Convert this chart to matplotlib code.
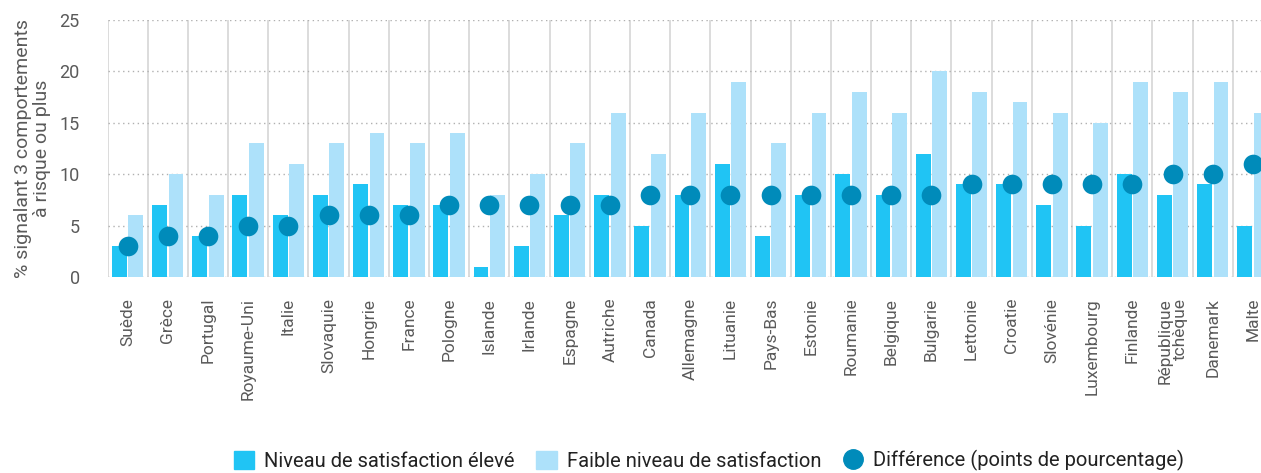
import matplotlib
import matplotlib.pyplot as plt
import numpy as np
from matplotlib.lines import Line2D
from matplotlib.patches import Patch

matplotlib.use('Agg')

plt.rcParams['font.family'] = ['Roboto', 'DejaVu Sans']

countries = ['Suède', 'Grèce', 'Portugal', 'Royaume-Uni', 'Italie', 'Slovaquie', 'Hongrie',
             'France', 'Pologne', 'Islande', 'Irlande', 'Espagne', 'Autriche', 'Canada',
             'Allemagne', 'Lituanie', 'Pays-Bas', 'Estonie', 'Roumanie', 'Belgique',
             'Bulgarie', 'Lettonie', 'Croatie', 'Slovénie', 'Luxembourg', 'Finlande',
             'République\ntchèque', 'Danemark', 'Malte']
high_satisfaction = [3, 7, 4, 8, 6, 8, 9, 7, 7, 1, 3, 6, 8, 5, 8, 11, 4, 8, 10, 8, 12, 9, 9, 7, 5,
                     10, 8, 9, 5]
low_satisfaction = [6, 10, 8, 13, 11, 13, 14, 13, 14, 8, 10, 13, 16, 12, 16, 19, 13, 16, 18, 16, 20,
                    18, 17, 16, 15, 19, 18, 19, 16]
difference = [3, 4, 4, 5, 5, 6, 6, 6, 7, 7, 7, 7, 7, 8, 8, 8, 8, 8, 8, 8, 8, 9, 9, 9, 9, 9, 10, 10, 11]

c_high = '#20C4F4'
c_low = '#ADE1FA'
c_diff = '#008BBA'
c_text = '#5a5a5a'

fig = plt.figure(figsize=(12.61, 4.73), dpi=100)
ax = fig.add_axes([107.5 / 1261, 196 / 473, 1165.5 / 1261, 257 / 473])

x = np.arange(len(countries))

# separators and dotted grid
for b in np.arange(-0.5, len(countries) + 0.5, 1):
    ax.axvline(b, color='#d6d6d6', lw=1.2, zorder=0)
for v in range(0, 26, 5):
    ax.axhline(v, color='#b0b0b0', lw=1, ls=(0, (1, 2.5)), zorder=0.5)

ax.bar(x - 0.205, high_satisfaction, width=0.37, color=c_high, zorder=2)
ax.bar(x + 0.205, low_satisfaction, width=0.37, color=c_low, zorder=2)
ax.scatter(x, difference, s=200, color=c_diff, zorder=3, linewidths=0)

ax.set_xlim(-0.5, len(countries) - 0.5)
ax.set_ylim(0, 25)
ax.set_yticks(range(0, 26, 5))
ax.set_xticks(x)
ax.set_xticklabels(countries, rotation=90, fontsize=12.5, color=c_text, linespacing=1.0,
                   multialignment='right')
ax.tick_params(axis='y', labelsize=13, labelcolor=c_text, length=0, pad=20)
ax.tick_params(axis='x', length=0, pad=15)
for s in ax.spines.values():
    s.set_visible(False)

ax.set_ylabel('% signalant 3 comportements\nà risque ou plus', fontsize=14, color=c_text,
              labelpad=6, linespacing=1.05)

handles = [Patch(color=c_high), Patch(color=c_low),
           Line2D([], [], marker='o', ls='', color=c_diff, markersize=14)]
labels = ['Niveau de satisfaction élevé', 'Faible niveau de satisfaction',
          'Différence (points de pourcentage)']
leg = fig.legend(handles, labels, loc='lower center', bbox_to_anchor=(709 / 1261, -0.035), ncol=3,
                 frameon=False, fontsize=14.5, handlelength=1.0, handleheight=1.0,
                 handletextpad=0.5, columnspacing=1.1)
for t in leg.get_texts():
    t.set_color('#222222')

fig.savefig('out.png', dpi=100)
